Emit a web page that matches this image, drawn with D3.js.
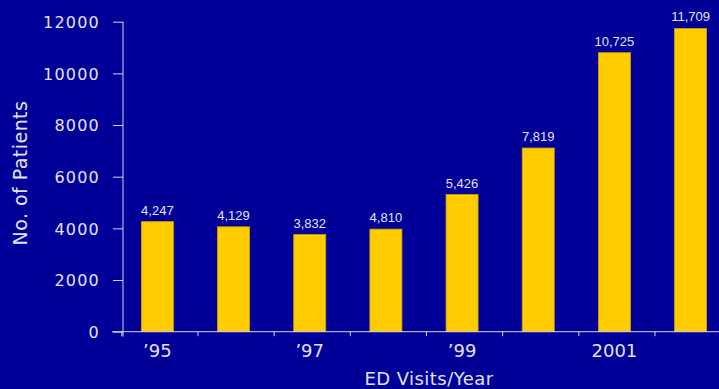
<!DOCTYPE html>
<html>
<head>
<meta charset="utf-8">
<script src="https://cdn.jsdelivr.net/npm/d3@7"></script>
<style>
    html, body { margin: 0; padding: 0; background: #000099; overflow: hidden; }
    svg { display: block; }
    text { fill: #e2e2ee; font-family: 'DejaVu Sans', sans-serif; }
</style>
</head>
<body>
<div id="graph"></div>
<script>
// chart data
const years = [1995, 1996, 1997, 1998, 1999, 2000, 2001, 2002];
const barValues = [4260, 4060, 3760, 3970, 5310, 7110, 10800, 11740];
const valueLabels = ['4,247', '4,129', '3,832', '4,810', '5,426', '7,819', '10,725', '11,709'];
const yearLabels = ['\u201995', '', '\u201997', '', '\u201999', '', '2001', ''];
const yTicks = [0, 2000, 4000, 6000, 8000, 10000, 12000];
const xTitle = 'ED Visits/Year';
const yTitle = 'No. of Patients';

const W = 719, H = 389;
const axisColor = '#d4d4e4';
const barFill = '#ffcc00';
const barStroke = '#d4a200';
const barWidth = 32;
const barShift = -2.5;

function createCanvas() {
    let svg = d3.select('div#graph')
        .append('svg')
        .attr('width', W)
        .attr('height', H);
    svg.append('rect')
        .attr('width', W)
        .attr('height', H)
        .attr('fill', '#000099');
    return svg;
}

function createScales() {
    let x = d3.scaleBand()
        .domain(years)
        .range([121.8, 121.8 + years.length * 76.17])
        .padding(0);
    let y = d3.scaleLinear()
        .domain([0, 12000])
        .range([331.7, 21.7]);
    return { x: x, y: y };
}

function drawYAxis(svg, y) {
    let axis = d3.axisLeft(y)
        .tickValues(yTicks)
        .tickFormat(d => d.toString())
        .tickSize(10)
        .tickPadding(13)
        .tickSizeOuter(0);
    let g = svg.append('g')
        .attr('transform', 'translate(123, 0)')
        .call(axis);
    g.select('.domain').remove();
    g.selectAll('line').attr('stroke', axisColor);
    g.selectAll('text')
        .attr('fill', '#e2e2ee')
        .attr('dy', '0.36em')
        .style('font-family', "'DejaVu Sans', sans-serif")
        .style('font-size', '16px')
        .style('letter-spacing', '1.2px');
    svg.append('line')
        .attr('x1', 123).attr('x2', 123)
        .attr('y1', y(12000)).attr('y2', y(0) + 5)
        .attr('stroke', axisColor);

    svg.append('text')
        .attr('transform', 'translate(27, 173) rotate(-90)')
        .attr('text-anchor', 'middle')
        .style('font-size', '19px')
        .style('letter-spacing', '0.45px')
        .text(yTitle);
}

function drawXAxis(svg, x, y) {
    let base = y(0);
    svg.append('line')
        .attr('x1', 112).attr('x2', W)
        .attr('y1', base).attr('y2', base)
        .attr('stroke', axisColor);
    svg.append('g')
        .selectAll('line')
        .data(years)
        .enter()
        .append('line')
            .attr('x1', d => x(d))
            .attr('x2', d => x(d))
            .attr('y1', base)
            .attr('y2', base + 4.5)
            .attr('stroke', axisColor);
    svg.append('g')
        .selectAll('text')
        .data(years)
        .enter()
        .append('text')
            .attr('x', d => x(d) + x.bandwidth() / 2 + barShift)
            .attr('y', 357)
            .attr('text-anchor', 'middle')
            .style('font-size', '18px')
            .text((d, i) => yearLabels[i]);
    svg.append('text')
        .attr('x', 429)
        .attr('y', 385)
        .attr('text-anchor', 'middle')
        .style('font-size', '18px')
        .style('letter-spacing', '0.45px')
        .text(xTitle);
}

function plotBars(svg, x, y) {
    let offset = (x.bandwidth() - barWidth) / 2 + barShift;
    svg.append('g')
        .selectAll('rect')
        .data(years)
        .enter()
        .append('rect')
            .attr('x', d => x(d) + offset)
            .attr('y', (d, i) => y(barValues[i]))
            .attr('width', barWidth)
            .attr('height', (d, i) => y(0) - y(barValues[i]))
            .attr('fill', barFill)
            .attr('stroke', barStroke)
            .attr('stroke-width', 0.8);
    svg.append('g')
        .selectAll('text')
        .data(years)
        .enter()
        .append('text')
            .attr('x', d => x(d) + x.bandwidth() / 2 + barShift)
            .attr('y', (d, i) => y(barValues[i]) - 7)
            .attr('text-anchor', 'middle')
            .style('font-family', "'Liberation Sans', Arial, sans-serif")
            .style('font-size', '13px')
            .text((d, i) => valueLabels[i]);
}

let svg = createCanvas();
let scales = createScales();
plotBars(svg, scales.x, scales.y);
drawXAxis(svg, scales.x, scales.y);
drawYAxis(svg, scales.y);
</script>
</body>
</html>
